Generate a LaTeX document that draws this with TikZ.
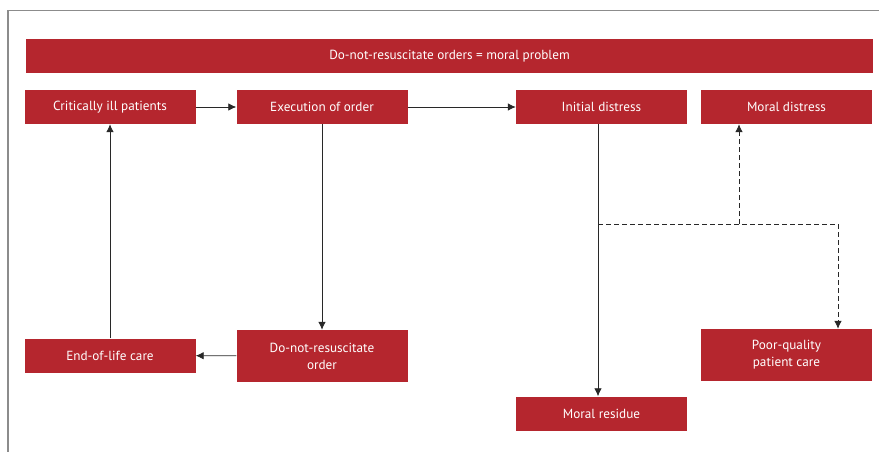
\documentclass[tikz,border=0pt]{standalone}
\usepackage{fontspec}
\setmainfont{PT Sans}
\usetikzlibrary{arrows.meta}
\usetikzlibrary{positioning}
\definecolor{boxred}{RGB}{181,38,46}
\definecolor{linegray}{RGB}{40,40,40}
\definecolor{framegray}{RGB}{140,140,140}

\begin{document}
\begin{tikzpicture}[
            x=1pt,y=-1pt,
            every node/.style={rectangle,fill=boxred,text=white,inner sep=0pt,align=center,
                font=\fontsize{13.2}{17}\selectfont},
            boxnode/.style={minimum width=171pt,minimum height=34pt},
            tallnode/.style={minimum width=171pt,minimum height=52pt}
        ]
        \tikzset{>={Latex[length=8pt,width=7.5pt]}}
        \tikzset{link/.style={draw=linegray,line width=0.8pt,->}}
        \tikzset{dashlink/.style={draw=linegray,line width=0.8pt,dash pattern=on 5pt off 3pt}}
        \useasboundingbox (0,0) rectangle (879,452);
        % frame
        \draw[framegray,line width=1.4pt] (8,452) -- (8,10.5) -- (879,10.5);
        % title
        \node[minimum width=847pt,minimum height=34pt] (title node) at (449.5,56) {Do-not-resuscitate orders = moral problem};
        % first row
        \node[boxnode] (patients node) at (110,107) {Critically ill patients};
        \node[boxnode] (execution node) at (322,107) {Execution of order};
        \node[boxnode] (initial node) at (601.5,107) {Initial distress};
        \node[boxnode] (distress node) at (786.5,107) {Moral distress};
        % lower boxes
        \node[boxnode] (care node) at (110,355.5) {End-of-life care};
        \node[tallnode] (order node) at (322,356) {Do-not-resuscitate\\order};
        \node[tallnode] (quality node) at (786.5,355) {Poor-quality\\patient care};
        \node[boxnode] (residue node) at (601.5,413.5) {Moral residue};
        % junctions
        \coordinate (split) at (598,224);
        \coordinate (up split) at (739,224);
        \coordinate (corner) at (838,224);
        % solid links
        \draw[link] (patients node) -- (execution node);
        \draw[link] (execution node) -- (initial node);
        \draw[link] (execution node) -- (order node);
        \draw[link] (order node) -- (care node);
        \draw[link] (care node) -- (patients node);
        \draw[link] (initial node.south -| split) -- (residue node.north -| split);
        % dashed links
        \draw[dashlink] (split) -- (corner);
        \draw[dashlink,->] (corner) -- (quality node.north -| corner);
        \draw[dashlink,->] (up split) -- (distress node.south -| up split);
    \end{tikzpicture}
\end{document}
